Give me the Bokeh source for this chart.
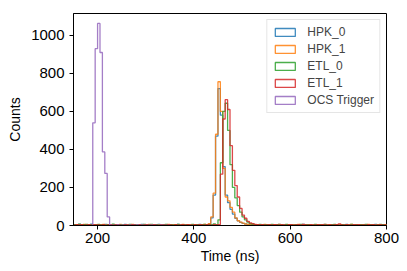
import numpy as np
from bokeh.plotting import figure
from bokeh.models import Legend, LegendItem, FixedTicker, ColumnDataSource
from bokeh.embed import file_html
from bokeh.resources import INLINE

# ---------------- data ----------------
bin_width = 5  # ns
start_main = 150  # ns, first bin of the four sensor histograms

hpk0_counts = [
    4, 2, 6, 3, 5, 1, 4, 7, 2, 3,
    5, 3, 2, 6, 4, 1, 3, 5, 2, 4,
    3, 6, 2, 4, 1, 5, 3, 2, 6, 4,
    2, 5, 3, 1, 4, 6, 2, 3, 5, 2,
    4, 1, 3, 6, 2, 5, 3, 4, 2, 1,
    5, 3, 6, 2, 4, 3, 8, 40, 160, 470,
    720, 580, 310, 160, 120, 85, 60, 38, 24, 16,
    11, 8, 6, 5, 4, 3, 5, 2, 4, 3,
    2, 5, 3, 4, 1, 6, 2, 3, 5, 2,
    4, 3, 1, 5, 2, 6, 3, 2, 4, 1,
    3, 5, 2, 4, 6, 1, 3, 2, 5, 3,
    2, 4, 3, 6, 1, 5, 2, 4, 3, 2,
    5, 3, 2, 4, 1, 6, 3, 2, 4, 3,
]
hpk1_counts = [
    3, 5, 2, 4, 6, 2, 3, 1, 5, 4,
    2, 4, 6, 3, 1, 5, 2, 4, 3, 6,
    4, 2, 5, 3, 6, 1, 4, 3, 2, 5,
    3, 6, 2, 4, 2, 5, 3, 1, 4, 6,
    2, 4, 5, 3, 1, 6, 2, 4, 3, 5,
    4, 2, 3, 5, 6, 4, 10, 45, 170, 480,
    756, 600, 300, 150, 130, 95, 70, 40, 25, 18,
    12, 8, 6, 4, 3, 5, 2, 4, 3, 6,
    3, 2, 5, 4, 2, 6, 3, 1, 4, 5,
    2, 4, 3, 6, 2, 5, 3, 4, 2, 3,
    5, 2, 4, 3, 6, 1, 4, 2, 5, 3,
    3, 5, 2, 4, 3, 6, 2, 4, 1, 5,
    4, 2, 6, 3, 5, 2, 4, 3, 2, 4,
]
etl0_counts = [
    5, 3, 7, 2, 4, 6, 3, 5, 2, 4,
    6, 3, 4, 2, 5, 3, 7, 2, 4, 5,
    3, 5, 2, 6, 4, 3, 5, 2, 4, 6,
    2, 4, 6, 3, 5, 2, 4, 3, 6, 2,
    5, 3, 4, 6, 2, 4, 3, 5, 2, 6,
    3, 5, 2, 4, 6, 3, 5, 4, 8, 5,
    30, 330, 600, 643, 500, 320, 200, 145, 105, 70,
    45, 30, 18, 10, 8, 5, 3, 6, 2, 4,
    5, 3, 6, 2, 4, 3, 5, 2, 6, 3,
    4, 2, 5, 3, 6, 2, 4, 5, 3, 2,
    6, 3, 4, 2, 5, 3, 2, 4, 6, 3,
    2, 5, 3, 4, 2, 6, 3, 5, 2, 4,
    3, 6, 2, 4, 5, 2, 3, 6, 4, 2,
]
etl1_counts = [
    2, 4, 3, 5, 1, 3, 4, 2, 5, 3,
    3, 2, 4, 1, 3, 5, 2, 3, 4, 2,
    1, 4, 3, 2, 5, 3, 1, 4, 2, 3,
    4, 2, 3, 5, 2, 1, 4, 3, 2, 5,
    3, 1, 4, 2, 3, 5, 2, 4, 3, 2,
    4, 2, 5, 3, 2, 4, 3, 1, 4, 3,
    5, 270, 560, 662, 610, 420, 290, 210, 150, 90,
    55, 38, 22, 14, 10, 6, 4, 3, 5, 2,
    3, 4, 2, 5, 3, 2, 4, 3, 1, 4,
    5, 2, 3, 4, 2, 6, 3, 2, 4, 3,
    2, 4, 3, 5, 2, 3, 4, 2, 3, 5,
    9, 3, 2, 4, 3, 2, 5, 3, 4, 2,
    3, 2, 4, 3, 5, 2, 3, 4, 2, 3,
]
start_trigger = 190  # ns, first bin of the trigger histogram
trigger_counts = [
    540, 930, 1063, 910, 387, 274, 45,
    2, 1, 0, 3, 1, 2, 0, 1, 2, 0, 1, 3, 0, 2, 1, 0, 1, 2, 0, 1, 0, 2, 1, 0, 1,
]

series_labels = ["HPK_0", "HPK_1", "ETL_0", "ETL_1", "OCS Trigger"]
series_counts = [hpk0_counts, hpk1_counts, etl0_counts, etl1_counts, trigger_counts]
series_starts = [start_main, start_main, start_main, start_main, start_trigger]
series_colors = ["#1f77b4", "#ff7f0e", "#2ca02c", "#d62728", "#9467bd"]

x_ticks = [200, 400, 600, 800]
y_ticks = [0, 200, 400, 600, 800, 1000]
x_label = "Time (ns)"
y_label = "Counts"
x_limits = (150, 800)
y_limits = (0, 1115)

# ---------------- figure ----------------
FONT = "Liberation Sans"
p = figure(width=407, height=271, x_range=x_limits, y_range=y_limits,
           output_backend="svg", toolbar_location=None,
           min_border_left=73, min_border_right=21, min_border_top=13, min_border_bottom=46)
p.background_fill_color = "white"
p.border_fill_color = "white"
p.outline_line_color = "black"
p.outline_line_width = 1
p.outline_line_alpha = 1
p.xgrid.grid_line_color = None
p.ygrid.grid_line_color = None

p.xaxis.ticker = FixedTicker(ticks=x_ticks)
p.yaxis.ticker = FixedTicker(ticks=y_ticks)
p.xaxis.axis_label = x_label
p.yaxis.axis_label = y_label
for ax in (p.xaxis, p.yaxis):
    ax.axis_line_color = "black"
    ax.major_tick_line_color = "black"
    ax.major_tick_out = 4
    ax.major_tick_in = 0
    ax.minor_tick_line_color = None
    ax.major_label_text_font = FONT
    ax.major_label_text_font_size = "15px"
    ax.major_label_text_color = "black"
    ax.axis_label_text_font = FONT
    ax.axis_label_text_font_size = "14px"
    ax.axis_label_text_font_style = "normal"
    ax.axis_label_text_color = "black"
p.xaxis.major_label_standoff = 3
p.xaxis.axis_label_standoff = 2
p.yaxis.major_label_standoff = 5
p.yaxis.axis_label_standoff = 5

items = []
for lab, counts, st, col in zip(series_labels, series_counts, series_starts, series_colors):
    c = np.asarray(counts, dtype=float)
    edges = st + bin_width * np.arange(len(c) + 1)
    xs = np.repeat(edges, 2)
    ys = np.concatenate([[0.0], np.repeat(c, 2), [0.0]])
    p.line(xs, ys, line_color=col, line_width=1.3, line_alpha=0.85)
    # legend proxy: an unfilled box (NaN geometry, never drawn in the plot area)
    proxy_src = ColumnDataSource(dict(l=[np.nan], r=[np.nan], t=[np.nan], b=[np.nan]))
    proxy = p.quad(left="l", right="r", top="t", bottom="b", source=proxy_src,
                   fill_color=None, line_color=col, line_width=1.3, line_alpha=0.85)
    items.append(LegendItem(label=lab, renderers=[proxy]))

legend = Legend(items=items, location="top_right")
legend.label_text_font = FONT
legend.label_text_font_size = "12px"
legend.glyph_width = 25
legend.glyph_height = 10
legend.label_standoff = 10
legend.spacing = 3
legend.padding = 5
legend.margin = 6
legend.border_line_color = "#cccccc"
legend.border_line_width = 1
legend.background_fill_color = "white"
legend.background_fill_alpha = 0.8
p.add_layout(legend, "center")

open("out.html", "w").write(file_html(p, INLINE))
